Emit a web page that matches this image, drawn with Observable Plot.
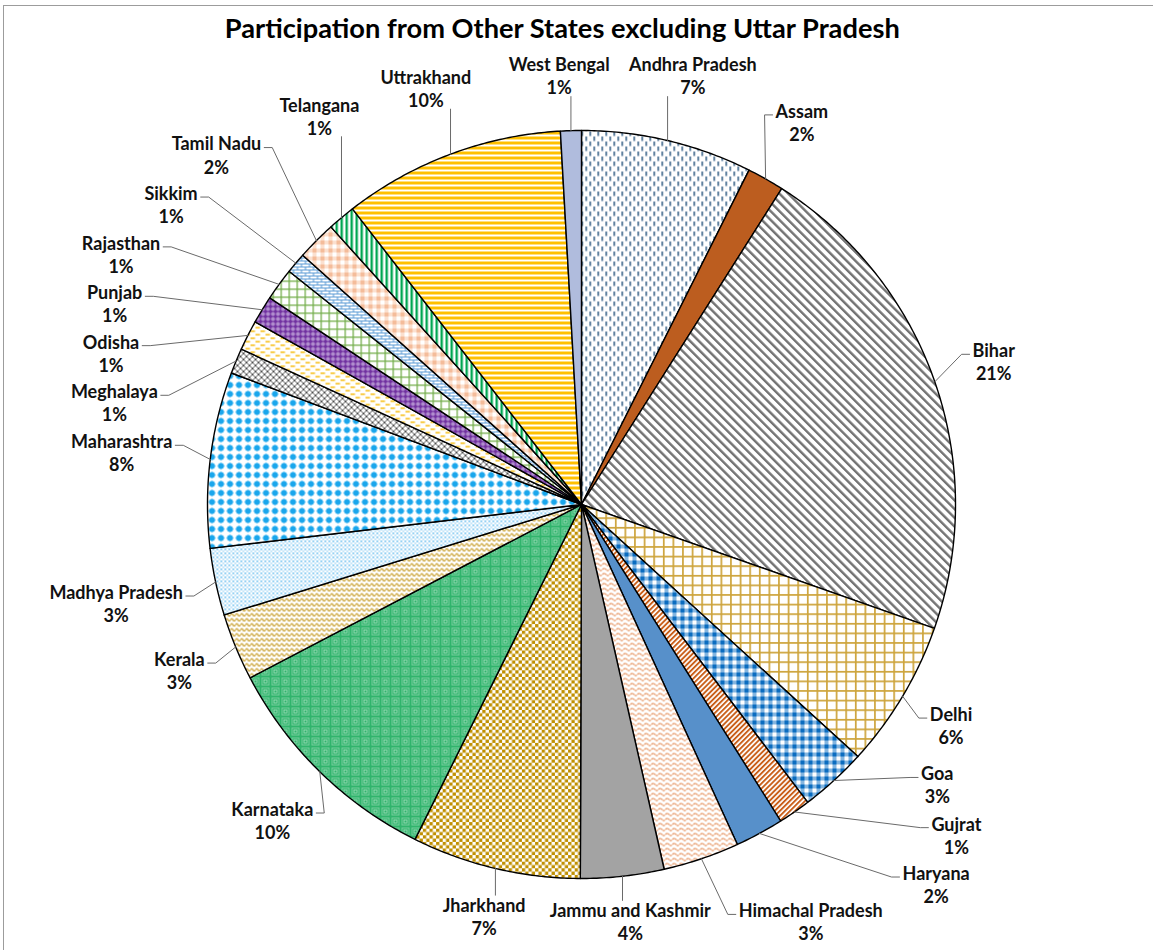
<!DOCTYPE html>
<html>
<head>
<meta charset="utf-8">
<script src="https://cdn.jsdelivr.net/npm/d3@7"></script>
<script src="https://cdn.jsdelivr.net/npm/@observablehq/plot@0.6"></script>
<style>
  html, body { margin: 0; padding: 0; background: #fff; }
  body { width: 1153px; height: 950px; position: relative; overflow: hidden; }
  #frame { position: absolute; left: 3px; top: 5px; width: 1200px; height: 1000px;
           border-top: 1px solid #9c9c9c; border-left: 1px solid #9c9c9c; }
  #title { position: absolute; left: 0; top: 8px; width: 1125px; text-align: center;
           font: bold 26px Lato, "Open Sans", sans-serif; line-height: 40px; color: #000; white-space: nowrap; }
  #title span { display: inline-block; transform-origin: 50% 50%; }
  #chart { position: absolute; left: 0; top: 56px; }
</style>
</head>
<body>
<svg width="0" height="0" style="position:absolute">
  <defs>
    <pattern id="p0" width="8" height="10" patternUnits="userSpaceOnUse">
      <rect width="8" height="10" fill="#fff"/>
      <rect x="1" y="0" width="1.4" height="4.5" fill="#1F4E79"/>
      <rect x="5" y="5" width="1.4" height="4.5" fill="#1F4E79"/>
    </pattern>
    <pattern id="p1" width="10" height="10" patternUnits="userSpaceOnUse">
      <rect width="10" height="10" fill="#BC5D1F"/>
    </pattern>
    <pattern id="p2" width="6.2" height="6.2" patternUnits="userSpaceOnUse" patternTransform="rotate(-45)">
      <rect width="6.2" height="6.2" fill="#fff"/>
      <rect width="2.4" height="6.2" fill="#737373"/>
    </pattern>
    <pattern id="p3" width="9.6" height="9.6" patternUnits="userSpaceOnUse">
      <rect width="9.6" height="9.6" fill="#fff"/>
      <rect width="9.6" height="1.7" fill="#CDA43C"/>
      <rect width="1.7" height="9.6" fill="#CDA43C"/>
    </pattern>
    <pattern id="p4" width="8" height="8" patternUnits="userSpaceOnUse">
      <rect width="8" height="8" fill="#fff"/>
      <rect width="4" height="4" fill="#0A6CC0"/>
      <rect x="4" width="4" height="4" fill="#0A6CC0" fill-opacity="0.5"/>
      <rect y="4" width="4" height="4" fill="#0A6CC0" fill-opacity="0.5"/>
    </pattern>
    <pattern id="p5" width="3.6" height="3.6" patternUnits="userSpaceOnUse" patternTransform="rotate(45)">
      <rect width="3.6" height="3.6" fill="#fff"/>
      <rect width="1.9" height="3.6" fill="#C95F1A"/>
    </pattern>
    <pattern id="p6" width="10" height="10" patternUnits="userSpaceOnUse">
      <rect width="10" height="10" fill="#5790CA"/>
    </pattern>
    <pattern id="p7" width="7" height="5" patternUnits="userSpaceOnUse">
      <rect width="7" height="5" fill="#fff"/>
      <path d="M0 3 Q1.75 0.8 3.5 3 T7 3" fill="none" stroke="#E07A3C" stroke-width="1.15" stroke-dasharray="2 0.6"/>
    </pattern>
    <pattern id="p8" width="10" height="10" patternUnits="userSpaceOnUse">
      <rect width="10" height="10" fill="#A3A3A3"/>
    </pattern>
    <pattern id="p9" width="6.6" height="6.6" patternUnits="userSpaceOnUse">
      <rect width="6.6" height="6.6" fill="#fff"/>
      <rect width="3.3" height="3.3" fill="#BF8F00"/>
      <rect x="3.3" y="3.3" width="3.3" height="3.3" fill="#BF8F00"/>
    </pattern>
    <pattern id="p10" width="10" height="10" patternUnits="userSpaceOnUse">
      <rect width="10" height="10" fill="#30B46C"/>
      <rect x="1.5" y="1.5" width="7" height="7" fill="none" stroke="#BDE8CF" stroke-width="1" stroke-dasharray="1 1"/>
      <rect x="3.5" y="3.5" width="3" height="3" fill="none" stroke="#A8E0C0" stroke-width="0.8"/>
    </pattern>
    <pattern id="p11" width="5" height="5" patternUnits="userSpaceOnUse">
      <rect width="5" height="5" fill="#fff"/>
      <path d="M0 3.4 Q1.25 0.9 2.5 3.4 T5 3.4" fill="none" stroke="#C9A030" stroke-width="1.3"/>
    </pattern>
    <pattern id="p12" width="4" height="4" patternUnits="userSpaceOnUse">
      <rect width="4" height="4" fill="#fff"/>
      <rect width="1.6" height="1.6" fill="#5DB9EE"/>
      <rect x="2" y="2" width="1.6" height="1.6" fill="#A4D6F4"/>
    </pattern>
    <pattern id="p13" width="9" height="9" patternUnits="userSpaceOnUse">
      <rect width="9" height="9" fill="#fff"/>
      <circle cx="4.5" cy="4.5" r="3" fill="#19A6EC"/>
      <path d="M4.5 0.4 L5.5 4.5 L4.5 8.6 L3.5 4.5 Z M0.4 4.5 L4.5 3.5 L8.6 4.5 L4.5 5.5 Z" fill="#19A6EC"/>
    </pattern>
    <pattern id="p14" width="6" height="6" patternUnits="userSpaceOnUse">
      <rect width="6" height="6" fill="#fff"/>
      <path d="M0 0 L6 6 M6 0 L0 6" stroke="#3a3a3a" stroke-width="0.9"/>
    </pattern>
    <pattern id="p15" width="10" height="7" patternUnits="userSpaceOnUse">
      <rect width="10" height="7" fill="#fff"/>
      <rect x="0" y="1" width="4.5" height="1.4" fill="#F5B800"/>
      <rect x="5" y="4.5" width="4.5" height="1.4" fill="#F5B800"/>
    </pattern>
    <pattern id="p16" width="5" height="5" patternUnits="userSpaceOnUse">
      <rect width="5" height="5" fill="#7030A0"/>
      <circle cx="2.5" cy="2.5" r="1.5" fill="#A27AC6" stroke="#E6D8F0" stroke-width="0.6"/>
    </pattern>
    <pattern id="p17" width="8" height="8" patternUnits="userSpaceOnUse">
      <rect width="8" height="8" fill="#fff"/>
      <rect width="8" height="1.3" fill="#74AE4C"/>
      <rect width="1.3" height="8" fill="#74AE4C"/>
    </pattern>
    <pattern id="p18" width="8" height="6" patternUnits="userSpaceOnUse">
      <rect width="8" height="6" fill="#fff"/>
      <path d="M0 0.5 H8 M0 3.5 H8 M1 0.5 V3.5 M5 3.5 V6" stroke="#5B9BD5" stroke-width="1.1" fill="none"/>
    </pattern>
    <pattern id="p19" width="8" height="8" patternUnits="userSpaceOnUse">
      <rect width="8" height="8" fill="#FBE0CF"/>
      <rect width="4" height="4" fill="#F4BC9A"/>
      <rect x="4" y="4" width="4" height="4" fill="#fff"/>
    </pattern>
    <pattern id="p20" width="5" height="5" patternUnits="userSpaceOnUse">
      <rect width="5" height="5" fill="#fff"/>
      <rect width="2.4" height="5" fill="#00A651"/>
    </pattern>
    <pattern id="p21" width="5" height="5" patternUnits="userSpaceOnUse">
      <rect width="5" height="5" fill="#fff"/>
      <rect width="5" height="3" fill="#FFC000"/>
    </pattern>
    <pattern id="p22" width="10" height="10" patternUnits="userSpaceOnUse">
      <rect width="10" height="10" fill="#B0BCDD"/>
    </pattern>
  </defs>
</svg>
<div id="frame"></div>
<div id="title"><span>Participation from Other States excluding Uttar Pradesh</span></div>
<div id="chart"></div>
<script>
// ---------- data ----------
const states = ["Andhra Pradesh","Assam","Bihar","Delhi","Goa","Gujrat","Haryana","Himachal Pradesh",
  "Jammu and Kashmir","Jharkhand","Karnataka","Kerala","Madhya Pradesh","Maharashtra","Meghalaya",
  "Odisha","Punjab","Rajasthan","Sikkim","Tamil Nadu","Telangana","Uttrakhand","West Bengal"];
const shares = [7.4,1.6,21.4,6.4,2.9,1.4,2.1,3.3,3.6,7.3,10.0,2.9,2.9,7.6,1.1,1.3,1.2,1.4,0.9,1.7,1.2,9.6,0.9];

// ---------- layout ----------
const W = 1153, H = 894;          // svg size
const CX = 581, CY = 448, R = 374; // pie centre and radius (px)
const FS = 18, LH = 1.28, PADX = 12, PADY = 3;
const FONT = "Lato";
const TAU = 2 * Math.PI, PI = Math.PI;

// title width tuning
(function(){
  const span = document.querySelector("#title span");
  const w = span.getBoundingClientRect().width;
  const k = Math.max(0.85, Math.min(1.1, 675 / w));
  span.style.transform = `scaleX(${k})`;
})();

const total = d3.sum(shares);
const arcs = [];
let acc = 0;
shares.forEach((v, i) => {
  const a0 = acc / total * TAU;
  acc += v;
  const a1 = acc / total * TAU;
  arcs.push({i, name: states[i], a0, a1, mid: (a0 + a1) / 2});
});

// slice polygons in unit-circle data space (y up, angle clockwise from top)
function slicePoints(a) {
  const pts = [{x: 0, y: 0}];
  const n = Math.max(2, Math.ceil((a.a1 - a.a0) / (PI / 360)));
  for (let k = 0; k <= n; k++) {
    const t = a.a0 + (a.a1 - a.a0) * k / n;
    pts.push({x: Math.sin(t), y: Math.cos(t)});
  }
  pts.push({x: 0, y: 0});
  return pts;
}

// label layout (px)
const ctx = document.createElement("canvas").getContext("2d");
ctx.font = `bold ${FS}px ${FONT}`;
const labels = arcs.map(a => {
  const pct = Math.round(shares[a.i] / total * 100) + "%";
  const w = Math.max(ctx.measureText(a.name).width, ctx.measureText(pct).width);
  return {name: a.name, pct, mid: a.mid, theta: a.mid, extra: 0, hw: w / 2 + 3, hh: FS * LH};
});
function gapFor(t) {
  const c = Math.cos(t);
  return 32 - 16 * Math.max(0, -c);   // tighter below the pie
}
function place(l) {
  const s = Math.sin(l.theta), c = Math.cos(l.theta);
  const d = R + gapFor(l.theta) + l.extra + Math.abs(s) * l.hw + Math.abs(c) * l.hh;
  l.cx = Math.max(l.hw + 8, Math.min(W - l.hw - 8, CX + d * s));
  l.cy = Math.max(l.hh - 4, Math.min(H - 6 - l.hh, CY - d * c));
}
const norm = t => ((t % TAU) + TAU) % TAU;
// quadrant: 0 upper-right, 1 lower-right, 2 lower-left, 3 upper-left
const quad = t => Math.floor(norm(t) / (PI / 2)) % 4;
const STEP = 0.12 * PI / 180;
for (let it = 0; it < 5000; it++) {
  labels.forEach(place);
  let any = false;
  for (let i = 0; i < labels.length; i++) {
    for (let j = i + 1; j < labels.length; j++) {
      let a = labels[i], b = labels[j];
      if (Math.abs(a.cx - b.cx) < a.hw + b.hw + PADX && Math.abs(a.cy - b.cy) < a.hh + b.hh + PADY) {
        any = true;
        if (norm(b.theta - a.theta) >= PI) { const t = a; a = b; b = t; }   // a precedes b clockwise
        const qa = quad(a.theta), qb = quad(b.theta);
        let grow = 0.3;
        if (qa === qb && qa === 1) { a.theta -= 2 * STEP; grow = 0.7; }   // lower-right: towards 3 o'clock
        else if (qa === qb && qa === 2) b.theta += 2 * STEP;             // lower-left: towards 9 o'clock
        else if (qa === qb && qa === 3) { a.theta -= 1.25 * STEP; b.theta += 0.75 * STEP; }
        else if (qa === qb && qa === 0) { a.theta -= 0.75 * STEP; b.theta += 1.25 * STEP; }
        else { a.theta -= STEP; b.theta += STEP; }
        a.extra = Math.min(110, a.extra + grow);
        b.extra = Math.min(110, b.extra + grow);
      }
    }
  }
  if (!any) break;
}
labels.forEach(place);

// leader lines (px -> data)
const toX = px => (px - CX) / R, toY = py => (CY - py) / R;
const leaders = [];
labels.forEach((l, i) => {
  const px = CX + R * Math.sin(l.mid), py = CY - R * Math.cos(l.mid);
  let path;
  if (px >= l.cx - l.hw + 4 && px <= l.cx + l.hw - 4) {
    const ay = l.cy < py ? l.cy + l.hh - 2 : l.cy - l.hh + 2;
    path = [[px, py], [px, ay]];
  } else {
    const left = l.cx > px;
    const ax = left ? l.cx - l.hw : l.cx + l.hw;
    const ay = l.cy - l.hh + 16;
    const ex = left ? ax - 8 : ax + 8;
    path = [[px, py], [ex, ay], [ax, ay]];
  }
  path.forEach(([x, y]) => leaders.push({id: i, x: toX(x), y: toY(y)}));
});

const sliceMarks = arcs.map(a =>
  Plot.line(slicePoints(a), {x: "x", y: "y", fill: `url(#p${a.i})`, stroke: "#000",
    strokeWidth: 1.4, strokeLinejoin: "round", curve: "linear"}));

const chart = Plot.plot({
  width: W, height: H, margin: 0,
  x: {domain: [toX(0), toX(W)], axis: null},
  y: {domain: [toY(H), toY(0)], axis: null},
  style: {background: "transparent", overflow: "visible"},
  marks: [
    ...sliceMarks,
    Plot.line(leaders, {x: "x", y: "y", z: "id", stroke: "#6a6a6a", strokeWidth: 1, curve: "linear"}),
    Plot.text(labels, {x: d => toX(d.cx), y: d => toY(d.cy), text: d => d.name + "\n" + d.pct,
      fontSize: FS, fontWeight: "bold", fontFamily: FONT, lineHeight: LH, fill: "#111",
      textAnchor: "middle", lineAnchor: "middle"})
  ]
});
document.getElementById("chart").appendChild(chart);
</script>
</body>
</html>
